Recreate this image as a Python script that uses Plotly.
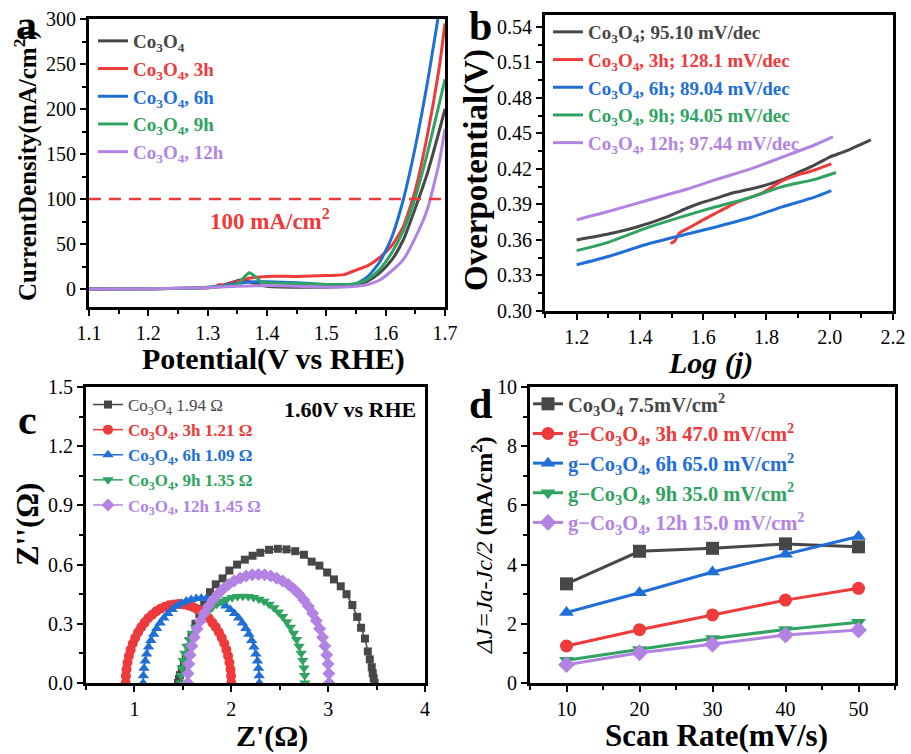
import plotly.graph_objects as go

FONT = "Liberation Serif"
C_BLK = "#474747"
C_RED = "#ee3a3a"
C_BLU = "#1f6fd6"
C_GRN = "#2fa35f"
C_PUR = "#b383e3"

# ---------------- panel a : LSV ----------------
a_V_co = [1.10, 1.20, 1.28, 1.32, 1.34, 1.355, 1.37, 1.40, 1.45, 1.50, 1.55, 1.57, 1.59, 1.61, 1.63, 1.65, 1.67, 1.69, 1.70]
a_J_co = [0, 0.3, 1.0, 3, 7, 10, 8, 3, 2, 2, 4, 9, 18, 32, 55, 90, 128, 175, 200]
a_V_3h = [1.10, 1.20, 1.28, 1.31, 1.32, 1.33, 1.35, 1.37, 1.40, 1.45, 1.50, 1.53, 1.55, 1.57, 1.59, 1.61, 1.63, 1.65, 1.67, 1.69, 1.70]
a_J_3h = [0, 0.3, 1.0, 2, 5, 4, 8, 12, 14, 14, 15, 16, 21, 26, 35, 48, 70, 110, 170, 245, 295]
a_V_6h = [1.10, 1.20, 1.28, 1.32, 1.34, 1.36, 1.38, 1.40, 1.45, 1.50, 1.53, 1.55, 1.57, 1.59, 1.61, 1.63, 1.65, 1.67, 1.688]
a_J_6h = [0, 0.3, 1.0, 3, 5, 7, 8, 8, 7, 5, 5, 6, 14, 30, 57, 100, 158, 228, 300]
a_V_9h = [1.10, 1.20, 1.28, 1.33, 1.35, 1.36, 1.37, 1.38, 1.39, 1.40, 1.45, 1.50, 1.55, 1.57, 1.59, 1.61, 1.63, 1.65, 1.67, 1.69, 1.70]
a_J_9h = [0, 0.3, 1.0, 3, 5, 12, 18, 14, 8, 7, 6, 5, 6, 11, 22, 40, 65, 102, 150, 205, 233]
a_V_12h = [1.10, 1.20, 1.30, 1.35, 1.40, 1.45, 1.50, 1.55, 1.57, 1.59, 1.61, 1.63, 1.65, 1.67, 1.69, 1.70]
a_J_12h = [0, 0.3, 1.5, 3, 4, 3, 2, 3, 5, 10, 20, 33, 57, 88, 140, 178]
ref_V = [1.10, 1.70]
ref_J = [100, 100]

# ---------------- panel b : Tafel ----------------
b_x_co = [1.20, 1.30, 1.39, 1.49, 1.55, 1.59, 1.65, 1.69, 1.75, 1.80, 1.85, 1.90, 1.95, 2.00, 2.05, 2.13]
b_y_co = [0.360, 0.365, 0.371, 0.380, 0.387, 0.391, 0.396, 0.3995, 0.403, 0.4065, 0.411, 0.417, 0.423, 0.430, 0.435, 0.4446]
b_x_3h = [1.497, 1.51, 1.524, 1.56, 1.60, 1.65, 1.70, 1.75, 1.79, 1.85, 1.90, 1.94, 2.005]
b_y_3h = [0.357, 0.359, 0.3657, 0.371, 0.377, 0.384, 0.391, 0.396, 0.400, 0.410, 0.415, 0.418, 0.4243]
b_x_6h = [1.20, 1.30, 1.43, 1.55, 1.64, 1.75, 1.85, 1.95, 2.005]
b_y_6h = [0.339, 0.346, 0.357, 0.365, 0.371, 0.379, 0.388, 0.396, 0.4017]
b_x_9h = [1.20, 1.30, 1.43, 1.55, 1.64, 1.75, 1.85, 1.95, 2.02]
b_y_9h = [0.351, 0.358, 0.371, 0.381, 0.388, 0.396, 0.405, 0.411, 0.417]
b_x_12h = [1.20, 1.30, 1.43, 1.55, 1.64, 1.75, 1.85, 1.95, 2.01]
b_y_12h = [0.377, 0.384, 0.394, 0.403, 0.411, 0.420, 0.430, 0.440, 0.447]

# ---------------- panel c : Nyquist ----------------
c_re_co = [1.45, 1.46, 1.47, 1.49, 1.51, 1.53, 1.56, 1.59, 1.63, 1.67, 1.72, 1.78, 1.84, 1.91, 1.98, 2.06, 2.14, 2.22, 2.30, 2.39,
           2.48, 2.57, 2.66, 2.75, 2.83, 2.91, 2.99, 3.06, 3.13, 3.19, 3.25, 3.30, 3.34, 3.38, 3.41, 3.43, 3.45, 3.46, 3.47, 3.48]
c_im_co = [0.0, 0.02, 0.04, 0.07, 0.10, 0.13, 0.18, 0.24, 0.30, 0.35, 0.40, 0.46, 0.50, 0.53, 0.57, 0.60, 0.625, 0.645, 0.66, 0.675,
           0.68, 0.677, 0.668, 0.65, 0.615, 0.595, 0.56, 0.525, 0.49, 0.45, 0.395, 0.335, 0.28, 0.225, 0.16, 0.12, 0.08, 0.05, 0.025, 0.0]
c_re_3h = [0.910, 0.912, 0.918, 0.929, 0.943, 0.961, 0.983, 1.009, 1.038, 1.070, 1.105, 1.142, 1.183, 1.225, 1.269, 1.314, 1.360, 1.408, 1.455,
           1.502, 1.550, 1.596, 1.641, 1.685, 1.728, 1.768, 1.805, 1.840, 1.872, 1.901, 1.927, 1.949, 1.967, 1.981, 1.992, 1.998, 2.000]
c_im_3h = [0.0, 0.035, 0.069, 0.104, 0.137, 0.169, 0.200, 0.229, 0.257, 0.283, 0.306, 0.328, 0.346, 0.363, 0.376, 0.386, 0.394, 0.398, 0.400,
           0.398, 0.394, 0.386, 0.376, 0.363, 0.346, 0.328, 0.306, 0.283, 0.257, 0.229, 0.200, 0.169, 0.137, 0.104, 0.069, 0.035, 0.0]
c_re_6h = [1.090, 1.092, 1.099, 1.111, 1.126, 1.146, 1.170, 1.199, 1.230, 1.266, 1.304, 1.346, 1.390, 1.436, 1.485, 1.535, 1.586, 1.638, 1.690,
           1.742, 1.794, 1.845, 1.895, 1.944, 1.990, 2.034, 2.076, 2.114, 2.150, 2.182, 2.210, 2.234, 2.254, 2.270, 2.281, 2.288, 2.290]
c_im_6h = [0.0, 0.037, 0.075, 0.111, 0.147, 0.182, 0.215, 0.247, 0.276, 0.304, 0.329, 0.352, 0.372, 0.390, 0.404, 0.415, 0.423, 0.428, 0.430,
           0.428, 0.423, 0.415, 0.404, 0.390, 0.372, 0.352, 0.329, 0.304, 0.276, 0.247, 0.215, 0.182, 0.147, 0.111, 0.075, 0.037, 0.0]
c_re_9h = [1.480, 1.482, 1.490, 1.502, 1.519, 1.540, 1.566, 1.596, 1.630, 1.668, 1.709, 1.753, 1.800, 1.850, 1.901, 1.954, 2.009, 2.064, 2.120,
           2.176, 2.231, 2.286, 2.339, 2.391, 2.440, 2.487, 2.531, 2.573, 2.610, 2.644, 2.674, 2.700, 2.721, 2.738, 2.750, 2.758, 2.760]
c_im_9h = [0.0, 0.038, 0.076, 0.114, 0.151, 0.186, 0.220, 0.252, 0.283, 0.311, 0.337, 0.360, 0.381, 0.399, 0.414, 0.425, 0.433, 0.438, 0.440,
           0.438, 0.433, 0.425, 0.414, 0.399, 0.381, 0.360, 0.337, 0.311, 0.283, 0.252, 0.220, 0.186, 0.151, 0.114, 0.076, 0.038, 0.0]
c_re_12h = [1.550, 1.553, 1.561, 1.575, 1.594, 1.618, 1.648, 1.682, 1.721, 1.764, 1.811, 1.861, 1.915, 1.972, 2.030, 2.091, 2.153, 2.216, 2.280,
            2.344, 2.407, 2.469, 2.530, 2.589, 2.645, 2.699, 2.749, 2.796, 2.839, 2.878, 2.912, 2.942, 2.966, 2.985, 2.999, 3.007, 3.010]
c_im_12h = [0.0, 0.048, 0.096, 0.142, 0.188, 0.232, 0.275, 0.316, 0.354, 0.389, 0.421, 0.451, 0.476, 0.499, 0.517, 0.531, 0.542, 0.548, 0.550,
            0.548, 0.542, 0.531, 0.517, 0.499, 0.476, 0.451, 0.421, 0.389, 0.354, 0.316, 0.275, 0.232, 0.188, 0.142, 0.096, 0.048, 0.0]

# ---------------- panel d : Cdl ----------------
d_scan = [10, 20, 30, 40, 50]
d_co = [3.35, 4.45, 4.55, 4.70, 4.60]
d_3h = [1.25, 1.80, 2.30, 2.80, 3.20]
d_6h = [2.38, 3.05, 3.75, 4.35, 4.95]
d_9h = [0.77, 1.13, 1.50, 1.81, 2.05]
d_12h = [0.62, 1.02, 1.31, 1.62, 1.79]

CO = "Co<sub>3</sub>O<sub>4</sub>"

def nm(txt, col, bold=True):
    t = f"<b>{txt}</b>" if bold else txt
    return f"<span style='color:{col}'>{t}</span>"

fig = go.Figure()

# panel a
for V, J, lab, col in [(a_V_co, a_J_co, CO, C_BLK), (a_V_3h, a_J_3h, CO + ", 3h", C_RED),
                       (a_V_6h, a_J_6h, CO + ", 6h", C_BLU), (a_V_9h, a_J_9h, CO + ", 9h", C_GRN),
                       (a_V_12h, a_J_12h, CO + ", 12h", C_PUR)]:
    fig.add_trace(go.Scatter(x=V, y=J, mode="lines", line=dict(color=col, width=3, shape="spline", smoothing=0.6),
                             name=nm(lab, col), legend="legend", xaxis="x", yaxis="y"))
fig.add_trace(go.Scatter(x=ref_V, y=ref_J, mode="lines", line=dict(color=C_RED, width=2.5, dash="12px,8px"),
                         showlegend=False, xaxis="x", yaxis="y"))

# panel b
for X, Y, lab, col in [(b_x_co, b_y_co, CO + "; 95.10 mV/dec", C_BLK), (b_x_3h, b_y_3h, CO + ", 3h; 128.1 mV/dec", C_RED),
                       (b_x_6h, b_y_6h, CO + ", 6h; 89.04 mV/dec", C_BLU), (b_x_9h, b_y_9h, CO + ", 9h; 94.05 mV/dec", C_GRN),
                       (b_x_12h, b_y_12h, CO + ", 12h; 97.44 mV/dec", C_PUR)]:
    fig.add_trace(go.Scatter(x=X, y=Y, mode="lines", line=dict(color=col, width=3, shape="spline", smoothing=0.6),
                             name=nm(lab, col), legend="legend2", xaxis="x2", yaxis="y2"))

# panel c
for X, Y, lab, col, sym, sz, bold in [(c_re_co, c_im_co, CO + " 1.94 Ω", C_BLK, "square", 8, False),
                                      (c_re_3h, c_im_3h, CO + ", 3h 1.21 Ω", C_RED, "circle", 10, True),
                                      (c_re_6h, c_im_6h, CO + ", 6h 1.09 Ω", C_BLU, "triangle-up", 10, True),
                                      (c_re_9h, c_im_9h, CO + ", 9h 1.35 Ω", C_GRN, "triangle-down", 10, True),
                                      (c_re_12h, c_im_12h, CO + ", 12h 1.45 Ω", C_PUR, "diamond", 10, True)]:
    fig.add_trace(go.Scatter(x=X, y=Y, mode="lines+markers", line=dict(color=col, width=1.5),
                             marker=dict(color=col, symbol=sym, size=sz),
                             name=nm(lab, col, bold), legend="legend3", xaxis="x3", yaxis="y3"))

# panel d
for Y, lab, col, sym in [(d_co, CO + " 7.5mV/cm<sup>2</sup>", C_BLK, "square"),
                         (d_3h, "g−" + CO + ", 3h 47.0 mV/cm<sup>2</sup>", C_RED, "circle"),
                         (d_6h, "g−" + CO + ", 6h 65.0 mV/cm<sup>2</sup>", C_BLU, "triangle-up"),
                         (d_9h, "g−" + CO + ", 9h 35.0 mV/cm<sup>2</sup>", C_GRN, "triangle-down"),
                         (d_12h, "g−" + CO + ", 12h 15.0 mV/cm<sup>2</sup>", C_PUR, "diamond")]:
    fig.add_trace(go.Scatter(x=d_scan, y=Y, mode="lines+markers", line=dict(color=col, width=3),
                             marker=dict(color=col, symbol=sym, size=13),
                             name=nm(lab, col), legend="legend4", xaxis="x4", yaxis="y4"))

W, H = 911, 754
def px(x): return x / W
def py(y): return 1 - y / H

TICKF = dict(family=FONT, size=20, color="black")

def axis(domain, rng, dtick, mdtick, anchor, tick0=None, tickformat=None):
    d = dict(domain=domain, range=rng, dtick=dtick, showline=True, linewidth=3, linecolor="black", mirror=True,
             ticks="outside", ticklen=6, tickwidth=2, tickcolor="black", tickfont=TICKF, showgrid=False,
             zeroline=False, anchor=anchor, automargin=False,
             minor=dict(ticks="outside", ticklen=4, tickwidth=2, tickcolor="black", dtick=mdtick, showgrid=False))
    if tick0 is not None:
        d["tick0"] = tick0
    if tickformat:
        d["tickformat"] = tickformat
    return d

fig.update_layout(
    width=W, height=H, margin=dict(l=0, r=0, t=0, b=0, pad=0, autoexpand=False),
    paper_bgcolor="white", plot_bgcolor="white",
    font=dict(family=FONT, color="black"),
    xaxis=axis([px(89), px(445)], [1.1, 1.7], 0.1, 0.05, "y", tickformat=".1f"),
    yaxis=axis([py(307), py(19)], [-20, 300], 50, 25, "x", tick0=0),
    xaxis2=axis([px(545), px(893)], [1.1, 2.2], 0.2, 0.1, "y2", tick0=1.2, tickformat=".1f"),
    yaxis2=axis([py(311), py(15)], [0.30, 0.55], 0.03, 0.015, "x2", tick0=0.30, tickformat=".2f"),
    xaxis3=axis([px(86), px(425)], [0.5, 4.0], 1, 0.5, "y3", tick0=1),
    yaxis3=axis([py(683), py(387)], [0, 1.5], 0.3, 0.15, "x3", tick0=0, tickformat=".1f"),
    xaxis4=axis([px(530), px(895)], [5, 55], 10, 5, "y4", tick0=10),
    yaxis4=axis([py(683), py(387)], [0, 10], 2, 1, "x4", tick0=0),
    legend=dict(x=px(93), y=py(22), xanchor="left", yanchor="top", bgcolor="rgba(0,0,0,0)",
                font=dict(family=FONT, size=19), itemwidth=30, tracegroupgap=0),
    legend2=dict(x=px(548), y=py(13), xanchor="left", yanchor="top", bgcolor="rgba(0,0,0,0)",
                 font=dict(family=FONT, size=19), itemwidth=30, tracegroupgap=0),
    legend3=dict(x=px(88), y=py(387), xanchor="left", yanchor="top", bgcolor="rgba(0,0,0,0)",
                 font=dict(family=FONT, size=17), itemwidth=30, tracegroupgap=0),
    legend4=dict(x=px(528), y=py(384), xanchor="left", yanchor="top", bgcolor="rgba(0,0,0,0)",
                 font=dict(family=FONT, size=20.5), itemwidth=30, tracegroupgap=0),
    showlegend=True,
)

# axis titles (text, centre x, centre y, size, angle)
titles = [
    ("<b>Potential(V vs RHE)</b>", 273, 359, 30, 0),
    ("<b>CurrentDensity(mA/cm<sup>2</sup>)</b>", 25, 166, 25, -90),
    ("<b><i>Log (j)</i></b>", 710, 363, 30, 0),
    ("<b>Overpotential(V)</b>", 477, 170, 33, -90),
    ("<b>Z'(Ω)</b>", 272, 736, 30, 0),
    ("<b>Z''(Ω)</b>", 27, 525, 31, -90),
    ("<b>Scan Rate(mV/s)</b>", 716, 735, 31, 0),
    ("<i>ΔJ=Ja-Jc/2</i><b> (mA/cm<sup>2</sup>)</b>", 482, 545, 24, -90),
]
for t, x, y, s, ang in titles:
    fig.add_annotation(text=t, x=px(x), y=py(y), xref="paper", yref="paper", showarrow=False, textangle=ang,
                       xanchor="center", yanchor="middle", font=dict(family=FONT, size=s, color="black"))

# panel letters
for t, x, y, s in [("<b>a</b>", 26, 25, 42), ("<b>b</b>", 480, 26, 42), ("<b>c</b>", 27, 420, 42), ("<b>d</b>", 480, 404, 42)]:
    fig.add_annotation(text=t, x=px(x), y=py(y), xref="paper", yref="paper", showarrow=False,
                       xanchor="center", yanchor="middle", font=dict(family=FONT, size=s, color="black"))

fig.add_annotation(text="<b>100 mA/cm<sup>2</sup></b>", x=1.405, y=77, xref="x", yref="y", showarrow=False,
                   font=dict(family=FONT, size=23, color=C_RED))
fig.add_annotation(text="<b>1.60V vs RHE</b>", x=px(350), y=py(410), xref="paper", yref="paper", showarrow=False,
                   font=dict(family=FONT, size=22, color="black"))

fig.write_html("out.html", config={"displayModeBar": False},
               post_script="document.body.style.margin='0px';document.body.style.padding='0px';")
